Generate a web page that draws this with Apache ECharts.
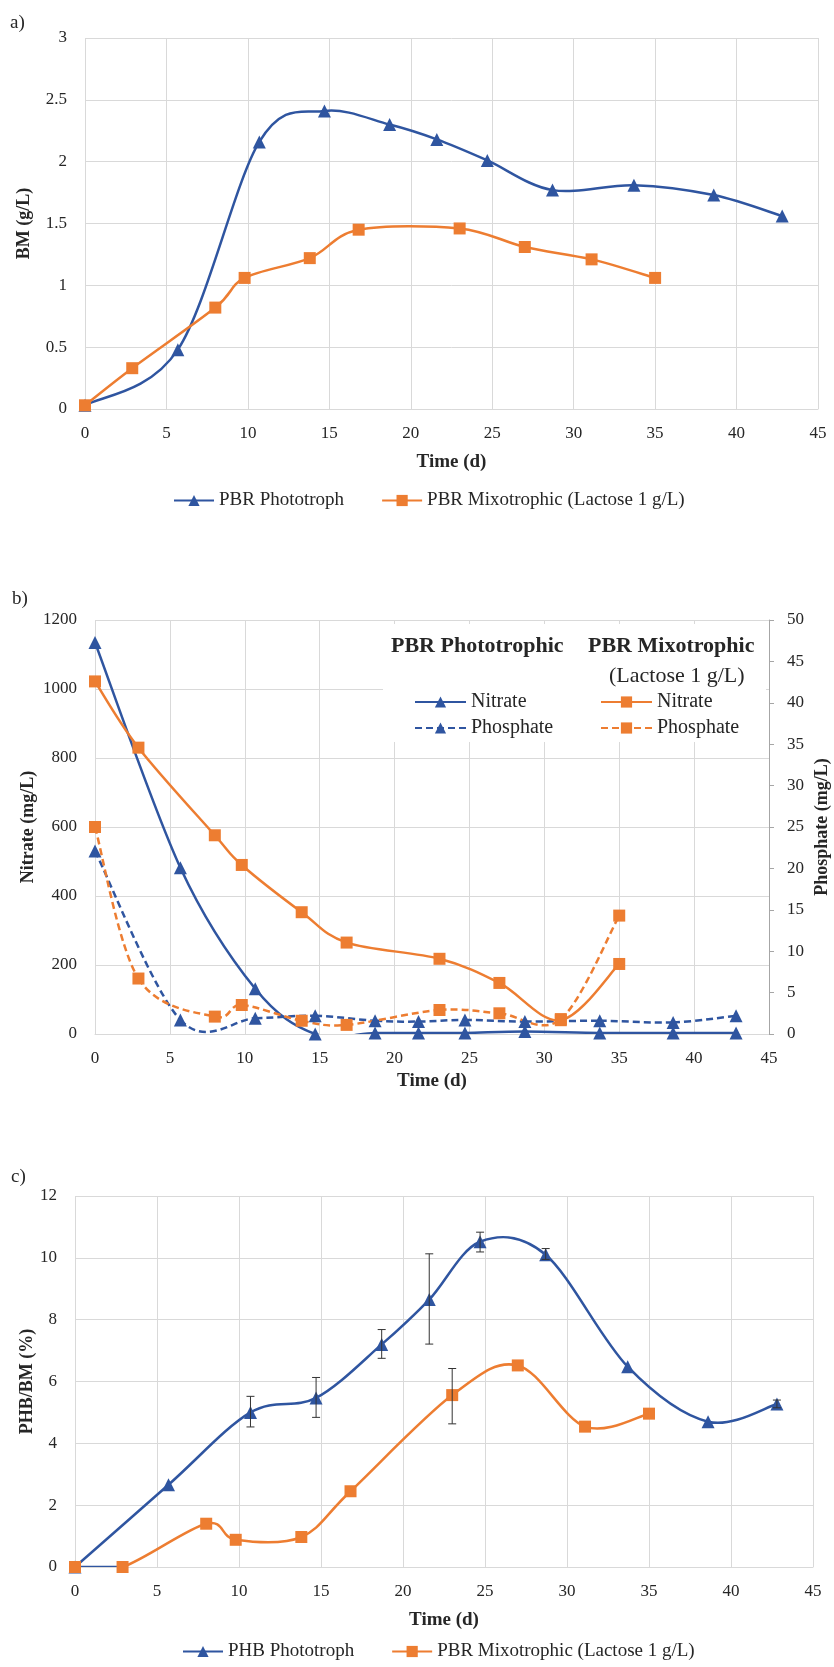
<!DOCTYPE html>
<html>
<head>
<meta charset="utf-8">
<script src="https://cdn.jsdelivr.net/npm/echarts@6/dist/echarts.min.js"></script>
<style>
  html, body { margin: 0; background: #fff; }
  #main { width: 834px; height: 1667px; }
</style>
</head>
<body>
<div id="main"></div>
<script>
// sampling days (same for all three panels)
const photoDays = [0, 5.7, 10.7, 14.7, 18.7, 21.6, 24.7, 28.7, 33.7, 38.6, 42.8];
const mixoDays = [0, 2.9, 8.0, 9.8, 13.8, 16.8, 23.0, 27.0, 31.1, 35.0];

// a) biomass g/L
const photoBM = [0.03, 0.48, 2.16, 2.41, 2.30, 2.18, 2.01, 1.77, 1.81, 1.73, 1.56];
const mixoBM = [0.03, 0.33, 0.82, 1.06, 1.22, 1.45, 1.46, 1.31, 1.21, 1.06];

// b) nitrate mg/L (left axis), phosphate mg/L (right axis)
const photoNitrate = [1135, 482, 131, 0, 3, 3, 3, 7, 3, 3, 3];
const photoPhosphate = [22.1, 1.7, 1.9, 2.2, 1.6, 1.5, 1.7, 1.5, 1.6, 1.4, 2.2];
const mixoNitrate = [1022, 830, 576, 490, 353, 265, 218, 148, 40, 203];
const mixoPhosphate = [25, 6.7, 2.1, 3.5, 1.6, 1.1, 2.9, 2.5, 1.8, 14.3];

// c) PHB/BM %
const photoPHB = [0, 2.66, 5.0, 5.47, 7.2, 8.65, 10.52, 10.1, 6.48, 4.7, 5.27];
const mixoPHB = [0, 0, 1.4, 0.88, 0.97, 2.45, 5.56, 6.52, 4.54, 4.96];
// error bars
const photoErrDays = [10.7, 14.7, 18.7, 21.6, 24.7, 28.7, 42.8];
const photoErrLow = [4.53, 4.84, 6.75, 7.21, 10.19, 9.95, 5.15];
const photoErrHigh = [5.52, 6.13, 7.68, 10.13, 10.83, 10.30, 5.40];
const mixoErrDays = [23.0];
const mixoErrLow = [4.63];
const mixoErrHigh = [6.42];

const dayTicks = [0, 5, 10, 15, 20, 25, 30, 35, 40, 45];

const BLUE = '#2f55a0';
const ORANGE = '#ed7d31';
const GRID = '#d9d9d9';
const TXT = '#262626';
const FONT = '"Liberation Serif", "DejaVu Serif", serif';

const zip = (xs, ys) => xs.map((x, i) => [x, ys[i]]);

const main = document.getElementById('main');
const chart = echarts.init(main, null, { renderer: 'canvas' });

const xAxisBase = (gridIndex, gap) => ({
  type: 'value', gridIndex: gridIndex,
  min: dayTicks[0], max: dayTicks[dayTicks.length - 1], interval: 5,
  name: 'Time (d)', nameLocation: 'middle', nameGap: gap, nameMoveOverlap: false,
  nameTextStyle: { fontFamily: FONT, fontSize: 19, fontWeight: 'bold', color: TXT },
  axisLine: { show: true, lineStyle: { color: GRID, width: 1 } },
  axisTick: { show: false },
  axisLabel: { margin: 16, fontFamily: FONT, fontSize: 17, color: TXT },
  splitLine: { show: true, lineStyle: { color: GRID, width: 1 } }
});

const yAxisBase = (gridIndex, min, max, interval, name, gap) => ({
  type: 'value', gridIndex: gridIndex,
  min: min, max: max, interval: interval,
  name: name, nameLocation: 'middle', nameGap: gap, nameRotate: 90, nameMoveOverlap: false,
  nameTextStyle: { fontFamily: FONT, fontSize: 18, fontWeight: 'bold', color: TXT },
  axisLine: { show: false },
  axisTick: { show: false },
  axisLabel: { margin: 18, fontFamily: FONT, fontSize: 17, color: TXT, formatter: v => String(v) },
  splitLine: { show: true, lineStyle: { color: GRID, width: 1 } }
});

// markers only, the smoothed curve is drawn by curveSeries
const markerSeries = (name, xi, yi, data, color, symbol, dashed) => ({
  name: name, type: 'line', xAxisIndex: xi, yAxisIndex: yi,
  data: data,
  symbol: symbol, symbolSize: symbol === 'rect' ? 12 : 13,
  itemStyle: { color: color },
  lineStyle: { color: color, width: 2.5, opacity: 0, type: dashed ? [7, 4] : 'solid' },
  emphasis: { disabled: true }
});

// Excel style smoothing: cubic bezier per segment, control points at 1/6 of neighbour chord
const curveSeries = (xi, yi, xs, ys, color, dashed) => ({
  type: 'custom', xAxisIndex: xi, yAxisIndex: yi, silent: true, clip: true,
  data: zip(xs, ys), encode: { x: 0, y: 1 },
  renderItem: (params, api) => {
    const n = xs.length;
    const i = params.dataIndex;
    if (i >= n - 1) return { type: 'group', children: [] };
    const p = j => {
      const k = Math.max(0, Math.min(n - 1, j));
      return api.coord([xs[k], ys[k]]);
    };
    const p0 = p(i - 1), p1 = p(i), p2 = p(i + 1), p3 = p(i + 2);
    return {
      type: 'bezierCurve',
      shape: {
        x1: p1[0], y1: p1[1], x2: p2[0], y2: p2[1],
        cpx1: p1[0] + (p2[0] - p0[0]) / 6, cpy1: p1[1] + (p2[1] - p0[1]) / 6,
        cpx2: p2[0] - (p3[0] - p1[0]) / 6, cpy2: p2[1] - (p3[1] - p1[1]) / 6
      },
      style: { stroke: color, lineWidth: 2.5, fill: 'none', lineDash: dashed ? [7, 4] : null }
    };
  }
});

function errRender(params, api) {
  const x = api.value(0);
  const lo = api.coord([x, api.value(1)]);
  const hi = api.coord([x, api.value(2)]);
  const w = 4;
  const st = { stroke: '#333', lineWidth: 1 };
  return {
    type: 'group',
    children: [
      { type: 'line', shape: { x1: lo[0], y1: lo[1], x2: hi[0], y2: hi[1] }, style: st },
      { type: 'line', shape: { x1: lo[0] - w, y1: lo[1], x2: lo[0] + w, y2: lo[1] }, style: st },
      { type: 'line', shape: { x1: hi[0] - w, y1: hi[1], x2: hi[0] + w, y2: hi[1] }, style: st }
    ]
  };
}

const legendText = { fontFamily: FONT, fontSize: 19, color: TXT };
const legendTextB = { fontFamily: FONT, fontSize: 20, color: TXT };

const option = {
  backgroundColor: '#fff',
  animation: false,
  grid: [
    { left: 85, top: 38, width: 733, height: 371, outerBoundsMode: 'none' },
    { left: 95, top: 620, width: 674, height: 414, outerBoundsMode: 'none' },
    { left: 75, top: 1196, width: 738, height: 371, outerBoundsMode: 'none' }
  ],
  xAxis: [
    xAxisBase(0, 44),
    xAxisBase(1, 38),
    xAxisBase(2, 44)
  ],
  yAxis: [
    yAxisBase(0, 0, 3, 0.5, 'BM (g/L)', 52),
    yAxisBase(1, 0, 1200, 200, 'Nitrate (mg/L)', 58),
    Object.assign(yAxisBase(1, 0, 50, 5, 'Phosphate (mg/L)', 44), {
      position: 'right',
      splitLine: { show: false },
      axisLine: { show: true, lineStyle: { color: '#a6a6a6' } },
      axisTick: { show: true, length: 5, lineStyle: { color: '#a6a6a6' } },
      axisLabel: { margin: 18, fontFamily: FONT, fontSize: 17, color: TXT }
    }),
    yAxisBase(2, 0, 12, 2, 'PHB/BM (%)', 39)
  ],
  legend: [
    {
      left: 173, top: 491, padding: 0, itemWidth: 40, itemHeight: 14, itemGap: 37,
      data: ['PBR Phototroph', 'PBR Mixotrophic (Lactose 1 g/L)'],
      lineStyle: { opacity: 1 },
      textStyle: legendText
    },
    {
      left: 414, top: 692, padding: 0, orient: 'vertical', itemWidth: 51, itemHeight: 14, itemGap: 6, z: 20,
      data: ['Phototrophic Nitrate', 'Phototrophic Phosphate'],
      formatter: n => n.split(' ')[1],
      lineStyle: { opacity: 1 },
      textStyle: legendTextB
    },
    {
      left: 600, top: 692, padding: 0, orient: 'vertical', itemWidth: 51, itemHeight: 14, itemGap: 6, z: 20,
      data: ['Mixotrophic Nitrate', 'Mixotrophic Phosphate'],
      formatter: n => n.split(' ')[1],
      lineStyle: { opacity: 1 },
      textStyle: legendTextB
    },
    {
      left: 182, top: 1642, padding: 0, itemWidth: 40, itemHeight: 14, itemGap: 37,
      data: ['PHB Phototroph', 'PBR Mixotrophic (Lactose 1 g/L)'],
      lineStyle: { opacity: 1 },
      textStyle: legendText
    }
  ],
  graphic: [
    { type: 'text', left: 10, top: 14, style: { text: 'a)', font: '19px ' + FONT, fill: TXT } },
    { type: 'text', left: 12, top: 590, style: { text: 'b)', font: '19px ' + FONT, fill: TXT } },
    { type: 'text', left: 11, top: 1168, style: { text: 'c)', font: '19px ' + FONT, fill: TXT } },
    { type: 'rect', z: 5, shape: { x: 383, y: 624, width: 383, height: 118 }, style: { fill: '#fff' } },
    { type: 'text', z: 20, left: 391, top: 635, style: { text: 'PBR Phototrophic', font: 'bold 22px ' + FONT, fill: TXT } },
    { type: 'text', z: 20, left: 588, top: 635, style: { text: 'PBR Mixotrophic', font: 'bold 22px ' + FONT, fill: TXT } },
    { type: 'text', z: 20, left: 609, top: 665, style: { text: '(Lactose 1 g/L)', font: '22px ' + FONT, fill: TXT } }
  ],
  series: [
    // smoothed curves
    curveSeries(0, 0, photoDays, photoBM, BLUE),
    curveSeries(0, 0, mixoDays, mixoBM, ORANGE),
    curveSeries(1, 1, photoDays, photoNitrate, BLUE),
    curveSeries(1, 2, photoDays, photoPhosphate, BLUE, true),
    curveSeries(1, 1, mixoDays, mixoNitrate, ORANGE),
    curveSeries(1, 2, mixoDays, mixoPhosphate, ORANGE, true),
    curveSeries(2, 3, photoDays, photoPHB, BLUE),
    curveSeries(2, 3, mixoDays, mixoPHB, ORANGE),
    // blue segment drawn over the first orange segment in the original
    curveSeries(2, 3, mixoDays.slice(0, 2), mixoPHB.slice(0, 2), BLUE),
    // a) markers
    markerSeries('PBR Phototroph', 0, 0, zip(photoDays, photoBM), BLUE, 'triangle'),
    markerSeries('PBR Mixotrophic (Lactose 1 g/L)', 0, 0, zip(mixoDays, mixoBM), ORANGE, 'rect'),
    // b) markers
    markerSeries('Phototrophic Nitrate', 1, 1, zip(photoDays, photoNitrate), BLUE, 'triangle'),
    markerSeries('Phototrophic Phosphate', 1, 2, zip(photoDays, photoPhosphate), BLUE, 'triangle', true),
    markerSeries('Mixotrophic Nitrate', 1, 1, zip(mixoDays, mixoNitrate), ORANGE, 'rect'),
    markerSeries('Mixotrophic Phosphate', 1, 2, zip(mixoDays, mixoPhosphate), ORANGE, 'rect', true),
    // c) markers
    markerSeries('PHB Phototroph', 2, 3, zip(photoDays, photoPHB), BLUE, 'triangle'),
    markerSeries('PBR Mixotrophic (Lactose 1 g/L)', 2, 3, zip(mixoDays, mixoPHB), ORANGE, 'rect'),
    {
      type: 'custom', xAxisIndex: 2, yAxisIndex: 3, z: 5, silent: true,
      renderItem: errRender, encode: { x: 0, y: [1, 2] },
      data: photoErrDays.map((d, i) => [d, photoErrLow[i], photoErrHigh[i]])
    },
    {
      type: 'custom', xAxisIndex: 2, yAxisIndex: 3, z: 5, silent: true,
      renderItem: errRender, encode: { x: 0, y: [1, 2] },
      data: mixoErrDays.map((d, i) => [d, mixoErrLow[i], mixoErrHigh[i]])
    }
  ]
};

chart.setOption(option);
</script>
</body>
</html>
